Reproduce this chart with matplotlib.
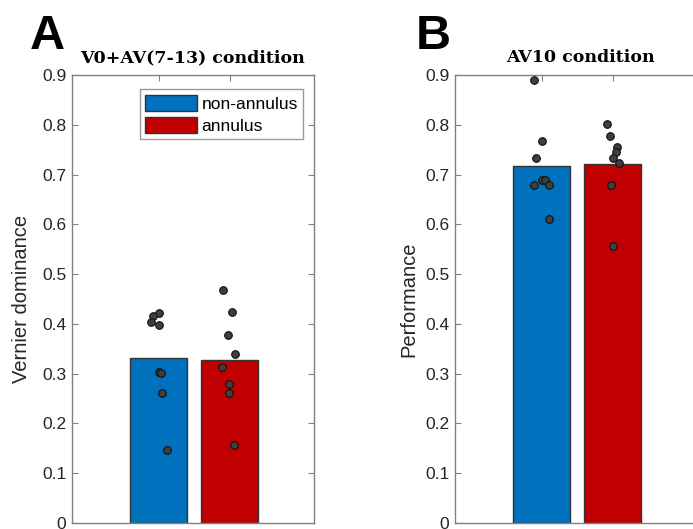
import matplotlib
matplotlib.use("Agg")
import matplotlib.pyplot as plt
from matplotlib.patches import Patch

# ---- data ----
groups = ["non-annulus", "annulus"]
bar_colors = ["#0072BD", "#C00000"]

titles = ["V0+AV(7-13) condition", "AV10 condition"]
ylabels = ["Vernier dominance", "Performance"]
panel_letters = ["A", "B"]

means_A = [0.331, 0.327]
means_B = [0.718, 0.722]

pts_A_non = [0.422, 0.415, 0.404, 0.398, 0.304, 0.301, 0.261, 0.146]
jit_A_non = [0.00, -0.08, -0.10, 0.00, 0.00, 0.03, 0.05, 0.12]
pts_A_ann = [0.468, 0.424, 0.378, 0.340, 0.313, 0.279, 0.262, 0.156]
jit_A_ann = [-0.10, 0.03, -0.03, 0.07, -0.11, -0.02, -0.01, 0.06]

pts_B_non = [0.889, 0.768, 0.734, 0.690, 0.690, 0.679, 0.679, 0.611]
jit_B_non = [-0.10, 0.00, -0.08, 0.00, 0.05, -0.11, 0.10, 0.11]
pts_B_ann = [0.801, 0.778, 0.756, 0.746, 0.734, 0.723, 0.679, 0.556]
jit_B_ann = [-0.09, -0.04, 0.06, 0.04, 0.00, 0.09, -0.03, 0.00]

yticks = [0, 0.1, 0.2, 0.3, 0.4, 0.5, 0.6, 0.7, 0.8, 0.9]
ytick_labels = ["0", "0.1", "0.2", "0.3", "0.4", "0.5", "0.6", "0.7", "0.8", "0.9"]

plt.rcParams['font.family'] = ['Liberation Sans', 'DejaVu Sans']

W, H = 693, 529
fig = plt.figure(figsize=(W / 100, H / 100), dpi=100)

axis_color = "#808080"
PX_PER_UNIT = 71.3

def make_ax(left_px, width_px, means, pts, jits, title, ylabel, letter, letter_x,
            labelpad, legend=False):
    ax = fig.add_axes([left_px / W, (H - 523) / H, width_px / W, 448 / H])
    xs = [1, 2]
    ax.bar(xs, means, width=0.8, color=bar_colors, edgecolor="#333333", linewidth=1.0, zorder=2)
    for x, p, j in zip(xs, pts, jits):
        ax.scatter([x + jj for jj in j], p, s=30, color="#3f3f3f", edgecolor="#111111",
                   linewidth=0.8, zorder=3, clip_on=False)
    x0 = -0.215
    ax.set_xlim(x0, x0 + width_px / PX_PER_UNIT)
    ax.set_ylim(0, 0.9)
    ax.set_xticks(xs)
    ax.set_xticklabels([])
    ax.set_yticks(yticks)
    ax.set_yticklabels(ytick_labels, fontsize=12.5, color="#262626")
    ax.tick_params(direction="in", top=True, right=True, length=4, color=axis_color, width=0.8, pad=4)
    for s in ax.spines.values():
        s.set_color(axis_color)
        s.set_linewidth(1.0)
    ax.set_ylabel(ylabel, fontsize=14.5, color="#262626", labelpad=labelpad)
    ax.set_title(title, fontsize=12.5, fontweight="bold", family="DejaVu Serif", pad=9)
    fig.text(letter_x / W, (H - 49) / H, letter, fontsize=35, fontweight="bold", ha="left", va="baseline")
    if legend:
        handles = [Patch(facecolor=c, edgecolor="#333333", label=g) for c, g in zip(bar_colors, groups)]
        leg = ax.legend(handles=handles, loc="upper right", bbox_to_anchor=(0.955, 0.968),
                        fontsize=12.5, frameon=True, fancybox=False, handlelength=3.0,
                        handleheight=1.05, handletextpad=0.25, labelspacing=0.3,
                        borderpad=0.3, borderaxespad=0.0)
        leg.get_frame().set_edgecolor("#808080")
        leg.get_frame().set_linewidth(1.0)
    return ax

make_ax(72, 242, means_A, [pts_A_non, pts_A_ann], [jit_A_non, jit_A_ann], titles[0], ylabels[0],
        "A", 30, labelpad=8, legend=True)
make_ax(455, 250, means_B, [pts_B_non, pts_B_ann], [jit_B_non, jit_B_ann], titles[1], ylabels[1],
        "B", 416, labelpad=5)

fig.savefig("out.png", dpi=100)
